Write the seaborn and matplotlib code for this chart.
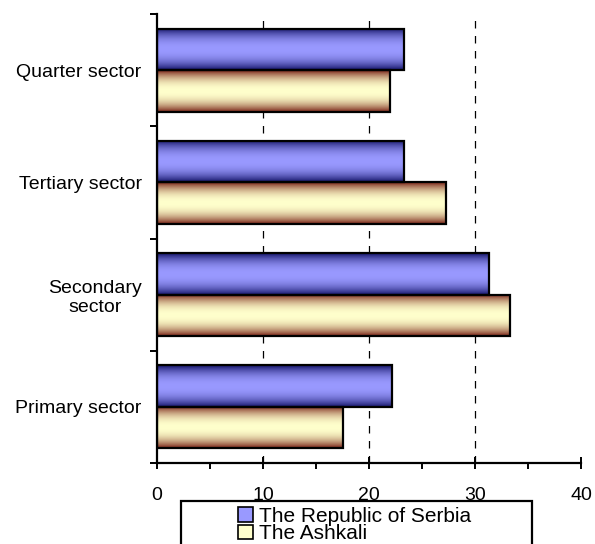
import numpy as np
import pandas as pd
import matplotlib
matplotlib.use("Agg")
import matplotlib.pyplot as plt
import matplotlib.patches as mpatches
from matplotlib.colors import to_rgb
from matplotlib.ticker import MultipleLocator, FixedLocator
import seaborn as sns

# --- Data ---
SECTORS = ["Quarter sector", "Tertiary sector", "Secondary\nsector", "Primary sector"]
SERBIA = [23.3, 23.3, 31.3, 22.2]
ASHKALI = [22.0, 27.3, 33.3, 17.5]
SERIES = ["The Republic of Serbia", "The Ashkali"]

# gradient colours (edge, centre) per series
GRAD = {
    SERIES[0]: ("#15156a", "#9999ff"),
    SERIES[1]: ("#7a2418", "#ffffcc"),
}


def gradient_fill(ax, patch, dark, light):
    x0, y0 = patch.get_x(), patch.get_y()
    w, h = patch.get_width(), patch.get_height()
    n = 64
    t = np.abs(np.linspace(-1, 1, n))
    t = t ** 2.2
    d, l = np.array(to_rgb(dark)), np.array(to_rgb(light))
    cols = l[None, :] + (d - l)[None, :] * t[:, None]
    img = cols[:, None, :]
    im = ax.imshow(img, extent=(x0, x0 + w, y0 + h, y0), aspect="auto",
                   interpolation="bilinear", zorder=2)
    im.set_clip_path(patch)


def main():
    sns.set_style("white")
    plt.rcParams["font.family"] = ["Liberation Sans", "DejaVu Sans"]
    plt.rcParams["text.color"] = "black"
    plt.rcParams["xtick.color"] = "black"
    plt.rcParams["ytick.color"] = "black"

    df = pd.DataFrame({
        "sector": SECTORS * 2,
        "value": SERBIA + ASHKALI,
        "series": [SERIES[0]] * len(SECTORS) + [SERIES[1]] * len(SECTORS),
    })

    fig = plt.figure(figsize=(5.95, 5.44), dpi=100)
    ax = fig.add_axes([157 / 595, 1 - 463 / 544, 424 / 595, 449 / 544])

    sns.barplot(data=df, x="value", y="sector", hue="series", order=SECTORS,
                hue_order=SERIES, orient="h", width=0.74, ax=ax,
                edgecolor="black", linewidth=1.6, legend=False, zorder=3)

    bars = [p for p in ax.patches if isinstance(p, mpatches.Rectangle)]
    for i, p in enumerate(bars):
        s = SERIES[0] if i < len(SECTORS) else SERIES[1]
        dark, light = GRAD[s]
        p.set_facecolor("none")
        gradient_fill(ax, p, dark, light)

    ax.set_xlim(0, 40)
    ax.set_ylim(3.5, -0.5)
    ax.set_xlabel("")
    ax.set_ylabel("")

    # gridlines
    for xv in [10, 20, 30]:
        ax.axvline(xv, color="black", lw=0.9, ls=(0, (6, 6)), zorder=1)

    # spines
    for s in ["top", "right"]:
        ax.spines[s].set_visible(False)
    for s in ["left", "bottom"]:
        ax.spines[s].set_linewidth(1.6)
        ax.spines[s].set_color("black")

    # x ticks
    ax.xaxis.set_major_locator(MultipleLocator(10))
    ax.xaxis.set_minor_locator(MultipleLocator(5))
    ax.tick_params(axis="x", which="major", direction="inout", length=8,
                   width=1.4, labelsize=14, pad=13, bottom=True)
    ax.tick_params(axis="x", which="minor", direction="out", length=4,
                   width=1.4, bottom=True)

    # y ticks: marks at boundaries, labels at centres
    ax.yaxis.set_major_locator(FixedLocator([-0.5, 0.5, 1.5, 2.5, 3.5]))
    ax.yaxis.set_minor_locator(FixedLocator(range(len(SECTORS))))
    ax.set_yticklabels([""] * 5)
    ax.set_yticklabels(SECTORS, minor=True, ha="right", multialignment="center")
    ax.tick_params(axis="y", which="major", direction="out", length=5,
                   width=1.4, left=True)
    ax.tick_params(axis="y", which="minor", length=0, labelsize=14, pad=11)

    # legend box below the axes
    rect = mpatches.Rectangle((181 / 595, -0.05), 351 / 595, 0.05 + 1 - 501 / 544,
                              transform=fig.transFigure, fill=False,
                              edgecolor="black", lw=1.6)
    fig.patches.append(rect)
    handles = [mpatches.Patch(facecolor=GRAD[s][1], edgecolor="black", lw=1.2, label=s)
               for s in SERIES]
    fig.legend(handles=handles, loc="upper left",
               bbox_to_anchor=(238 / 595, 1 - 507 / 544), frameon=False,
               fontsize=15, handlelength=0.72, handleheight=0.72,
               handletextpad=0.3, labelspacing=-0.08, borderpad=0,
               borderaxespad=0)

    fig.savefig("out.png", dpi=100)
    plt.close(fig)


if __name__ == "__main__":
    main()
